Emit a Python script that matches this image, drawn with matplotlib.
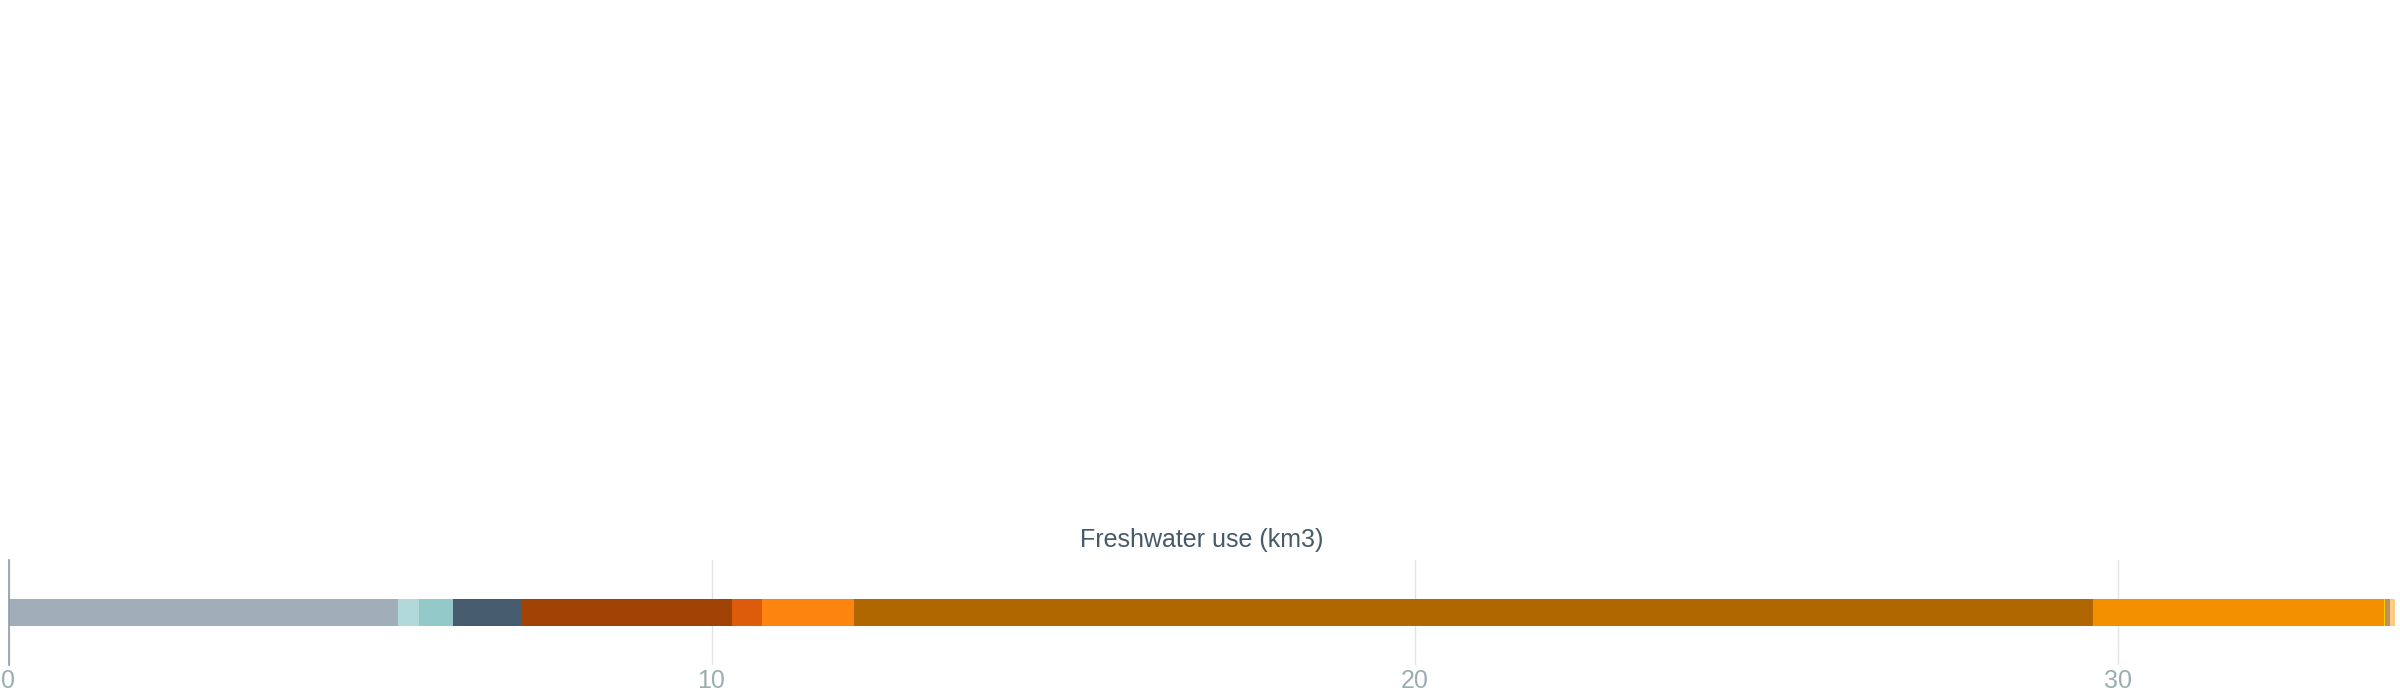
import matplotlib
matplotlib.use("Agg")
import matplotlib.pyplot as plt

plt.rcParams['font.family'] = ['Liberation Sans', 'DejaVu Sans']

# Data (km3)
segments = ["Segment 1", "Segment 2", "Segment 3", "Segment 4", "Segment 5", "Segment 6",
            "Segment 7", "Segment 8", "Segment 9", "Segment 10", "Segment 11", "Segment 12"]
values = [5.54, 0.30, 0.48, 0.97, 3.00, 0.43, 1.31, 17.62, 4.14, 0.015, 0.067, 0.07]
colors = ["#a1adb9", "#b1d9d9", "#94c9c9", "#465b6d", "#a04203", "#dc5c0c",
          "#fd840f", "#b06700", "#f29000", "#ffcc00", "#b8915f", "#fdc983"]
xticks = [0, 10, 20, 30]
title = "Freshwater use (km3)"

W, H = 2400, 700
fig = plt.figure(figsize=(W / 100, H / 100), dpi=100)
left_px, right_px, top_px, bottom_px = 8.5, 2394.7, 560, 665
ax = fig.add_axes([left_px / W, 1 - bottom_px / H, (right_px - left_px) / W, (bottom_px - top_px) / H])

total = sum(values)
start = 0.0
for name, v, c in zip(segments, values, colors):
    ax.barh(0, v, left=start, height=0.257, color=c, linewidth=0, label=name, zorder=3)
    start += v

ax.set_xlim(0, total)
ax.set_ylim(-0.5, 0.5)
ax.set_yticks([])
ax.set_xticks(xticks)
ax.set_xticklabels([str(t) for t in xticks])
ax.tick_params(axis='x', length=0, pad=3, labelsize=18, labelcolor="#9aaeb1")
ax.grid(axis='x', color="#e3e3e3", linewidth=1.0, zorder=0)
for s in ['top', 'right', 'bottom']:
    ax.spines[s].set_visible(False)
ax.spines['left'].set_color("#8c9bab")
ax.spines['left'].set_linewidth(1.2)
ax.spines['left'].set_zorder(4)

fig.text((left_px + right_px) / 2 / W, 1 - 547 / H, title, ha='center', va='baseline',
         fontsize=18, color="#455a6a")

fig.savefig("out.png", dpi=100)
